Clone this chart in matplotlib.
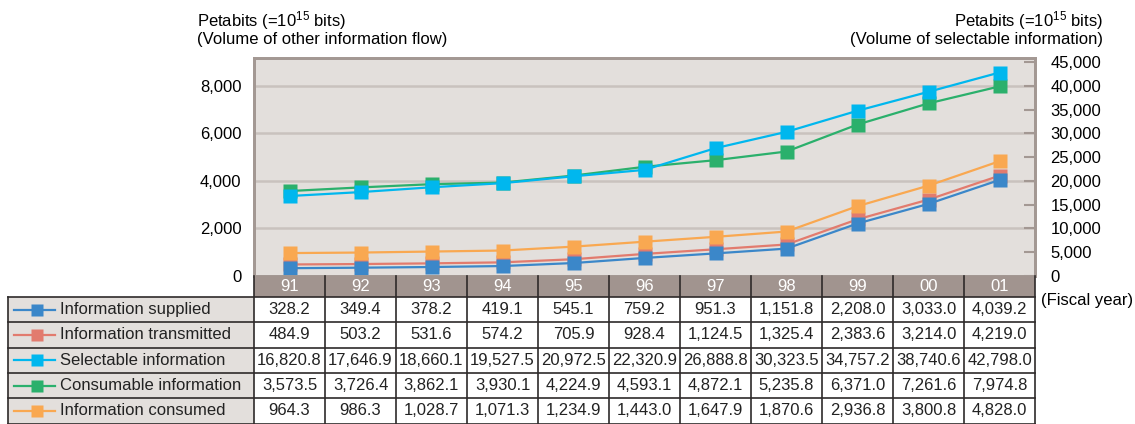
import numpy as np
import matplotlib
matplotlib.use('Agg')
import matplotlib.pyplot as plt
from matplotlib.patches import Rectangle
from matplotlib.lines import Line2D
from matplotlib.ticker import FuncFormatter

plt.rcParams['font.family'] = ['Liberation Sans', 'DejaVu Sans']
plt.rcParams['mathtext.fontset'] = 'custom'
plt.rcParams['mathtext.rm'] = 'Liberation Sans'
plt.rcParams['mathtext.default'] = 'regular'

years = ['91', '92', '93', '94', '95', '96', '97', '98', '99', '00', '01']
supplied = [328.2, 349.4, 378.2, 419.1, 545.1, 759.2, 951.3, 1151.8, 2208.0, 3033.0, 4039.2]
transmitted = [484.9, 503.2, 531.6, 574.2, 705.9, 928.4, 1124.5, 1325.4, 2383.6, 3214.0, 4219.0]
selectable = [16820.8, 17646.9, 18660.1, 19527.5, 20972.5, 22320.9, 26888.8, 30323.5, 34757.2, 38740.6, 42798.0]
consumable = [3573.5, 3726.4, 3862.1, 3930.1, 4224.9, 4593.1, 4872.1, 5235.8, 6371.0, 7261.6, 7974.8]
consumed = [964.3, 986.3, 1028.7, 1071.3, 1234.9, 1443.0, 1647.9, 1870.6, 2936.8, 3800.8, 4828.0]

names = ['Information supplied', 'Information transmitted', 'Selectable information',
         'Consumable information', 'Information consumed']
series = [supplied, transmitted, selectable, consumable, consumed]
colors = ['#3b87c9', '#e27b6e', '#00b7ee', '#2bb06c', '#f9a851']

FS = 12
bg = '#e3dfdc'
frame = '#a39893'

fig = plt.figure(figsize=(11.35, 4.24), dpi=100)
W, H = 1135, 424
ax = fig.add_axes([254 / W, 148 / H, 781 / W, 218 / H])
ax2 = ax.twinx()

x = np.arange(len(years))
ms = 9.5
# left axis series (drawn in this order so blue sits on red)
ax.plot(x, transmitted, color=colors[1], lw=1.6, marker='s', ms=ms, mec='none', zorder=3)
ax.plot(x, supplied, color=colors[0], lw=1.6, marker='s', ms=ms, mec='none', zorder=4)
ax.plot(x, consumed, color=colors[4], lw=1.6, marker='s', ms=ms, mec='none', zorder=4)
ax.plot(x, consumable, color=colors[3], lw=1.6, marker='s', ms=ms, mec='none', zorder=4)
# right axis
ax2.plot(x, selectable, color=colors[2], lw=1.6, marker='s', ms=ms, mec='none', zorder=4)

ax.set_facecolor(bg)
ax.set_xlim(-0.5, 10.5)
ax.set_ylim(0, 9170)
ax2.set_ylim(0, 45850)
ax.set_xticks([])
ax.set_yticks([0, 2000, 4000, 6000, 8000])
ax2.set_yticks(np.arange(0, 45001, 5000))
fmt = FuncFormatter(lambda v, p: f'{int(v):,}')
ax.yaxis.set_major_formatter(fmt)
ax2.yaxis.set_major_formatter(fmt)
ax.tick_params(axis='y', length=0, pad=9, labelsize=FS)
ax2.tick_params(axis='y', direction='in', length=8, width=1.5, color=frame, pad=11, labelsize=FS)
for g in [2000, 4000, 6000, 8000]:
    ax.axhline(g, color='#c9c2be', lw=1.8, zorder=1)
for a in (ax, ax2):
    for s in a.spines.values():
        s.set_color(frame)
        s.set_linewidth(2)

fig.text(197 / W, 1 - 47 / H, 'Petabits (=10$^{15}$ bits)\n(Volume of other information flow)',
         ha='left', va='bottom', fontsize=FS, linespacing=1.0)
fig.text(1103 / W, 1 - 47 / H, 'Petabits (=10$^{15}$ bits)\n(Volume of selectable information)',
         ha='right', va='bottom', fontsize=FS, linespacing=1.0, multialignment='right')
fig.text(1041 / W, 1 - 300 / H, '(Fiscal year)', ha='left', va='center', fontsize=FS)

# table
cw = 781 / 11.0
xmin = -0.5 - (254 - 8) / cw
tb = fig.add_axes([8 / W, 0, (1035 - 8) / W, 148 / H])
tb.set_xlim(xmin, 10.5)
tb.set_ylim(424.5, 276)
tb.axis('off')

def px(p):
    return xmin + (p - 8) / cw

dark = '#2e2a2a'
band_top, band_bot = 276, 297
rh = 25.4
tb.add_patch(Rectangle((-0.5, band_top), 11, band_bot - band_top, fc='#a1948f', ec='none'))
for i, y in enumerate(years):
    tb.text(i, (band_top + band_bot) / 2 + 0.5, y, ha='center', va='center', color='white', fontsize=FS)
for i in range(12):
    tb.plot([i - 0.5, i - 0.5], [band_top, 424.5], color=dark, lw=1.2, clip_on=False)
tb.add_patch(Rectangle((xmin, band_bot), -0.5 - xmin, 424.5 - band_bot, fc=bg, ec='none'))
tb.plot([xmin, xmin], [band_bot, 424.5], color=dark, lw=1.2, clip_on=False)
for r in range(6):
    yy = band_bot + r * rh
    tb.plot([xmin, 10.5], [yy, yy], color=dark, lw=1.2, clip_on=False)

for r, (nm, vals, c) in enumerate(zip(names, series, colors)):
    yc = band_bot + (r + 0.5) * rh
    tb.add_line(Line2D([px(14), px(55)], [yc, yc], color=c, lw=1.6))
    tb.plot(px(37), yc, marker='s', ms=8.5, color=c, mec='none')
    tb.text(px(60), yc, nm, ha='left', va='center', fontsize=FS, color='#222222')
    for i, v in enumerate(vals):
        tb.text(i, yc, f'{v:,.1f}', ha='center', va='center', fontsize=FS, color='#222222')

plt.savefig('out.png', dpi=100)
